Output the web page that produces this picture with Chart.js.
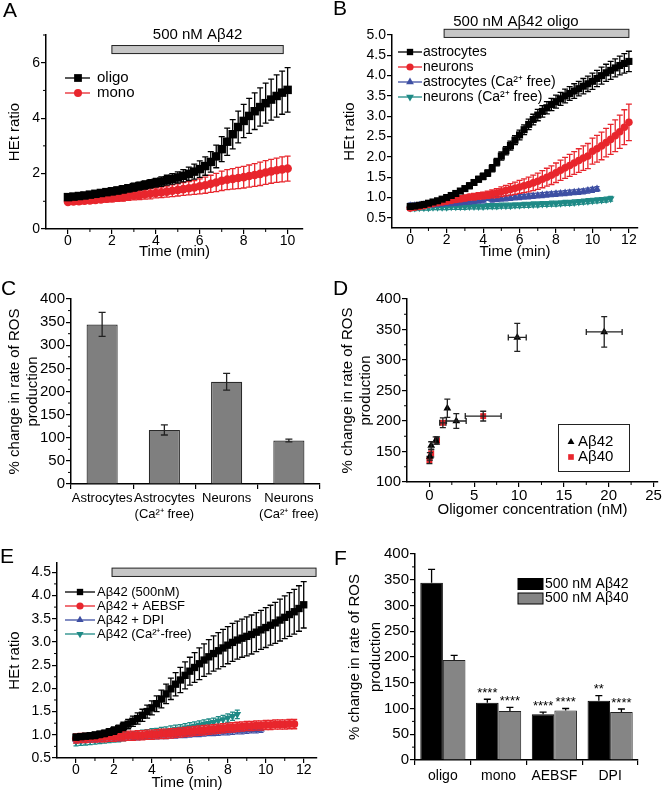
<!DOCTYPE html>
<html>
<head>
<meta charset="utf-8">
<script src="https://cdn.jsdelivr.net/npm/chart.js@4.4.1/dist/chart.umd.min.js"></script>
<style>
  body { margin: 0; background: #fff; }
  #fig { position: relative; width: 666px; height: 793px; overflow: hidden; font-family: "Liberation Sans", Arial, Helvetica, sans-serif; }
  #fig canvas { position: absolute; }
  .lbl { position: absolute; font-size: 21px; line-height: 21px; color: #000; }
</style>
</head>
<body>
<div id="fig">
  <canvas id="cA" width="333" height="260" style="left:0;top:0;width:333px;height:260px"></canvas>
  <canvas id="cB" width="333" height="260" style="left:333px;top:0;width:333px;height:260px"></canvas>
  <canvas id="cC" width="333" height="270" style="left:0;top:260px;width:333px;height:270px"></canvas>
  <canvas id="cD" width="333" height="270" style="left:333px;top:260px;width:333px;height:270px"></canvas>
  <canvas id="cE" width="333" height="263" style="left:0;top:530px;width:333px;height:263px"></canvas>
  <canvas id="cF" width="333" height="263" style="left:333px;top:530px;width:333px;height:263px"></canvas>
  <div class="lbl" style="left:3px;top:-1px">A</div>
  <div class="lbl" style="left:333px;top:-3px">B</div>
  <div class="lbl" style="left:1px;top:277px">C</div>
  <div class="lbl" style="left:333px;top:277px">D</div>
  <div class="lbl" style="left:0px;top:545px">E</div>
  <div class="lbl" style="left:334px;top:547px">F</div>
</div>
<script>
// sampling times (min), shared by the time courses
const times = [0,0.25,0.5,0.75,1,1.25,1.5,1.75,2,2.25,2.5,2.75,3,3.25,3.5,3.75,4,4.25,4.5,4.75,
  5,5.25,5.5,5.75,6,6.25,6.5,6.75,7,7.25,7.5,7.75,8,8.25,8.5,8.75,9,9.25,9.5,9.75,
  10,10.25,10.5,10.75,11,11.25,11.5,11.75,12];

// panel A
const oligoA = [1.15,1.17,1.19,1.21,1.24,1.27,1.30,1.33,1.36,1.39,1.43,1.47,1.51,1.55,1.59,1.63,1.67,1.71,1.76,1.81,
  1.86,1.92,1.99,2.07,2.16,2.27,2.42,2.62,2.88,3.15,3.42,3.68,3.90,4.08,4.25,4.40,4.54,4.67,4.80,4.92,5.02];
const oligoErrA = [0.08,0.08,0.09,0.09,0.10,0.10,0.11,0.11,0.12,0.12,0.13,0.13,0.14,0.14,0.15,0.15,0.16,0.17,0.18,0.19,
  0.20,0.22,0.24,0.27,0.30,0.33,0.37,0.41,0.45,0.49,0.53,0.57,0.60,0.63,0.66,0.69,0.72,0.74,0.76,0.78,0.80];
const monoA = [0.98,0.99,1.00,1.02,1.03,1.05,1.07,1.09,1.11,1.13,1.15,1.18,1.20,1.22,1.25,1.27,1.30,1.32,1.35,1.38,
  1.41,1.44,1.47,1.50,1.54,1.58,1.63,1.68,1.74,1.78,1.81,1.84,1.87,1.91,1.95,1.99,2.04,2.08,2.12,2.15,2.18];
const monoErrA = [0.08,0.09,0.09,0.10,0.10,0.11,0.11,0.12,0.13,0.13,0.14,0.15,0.15,0.16,0.17,0.18,0.18,0.19,0.20,0.21,
  0.22,0.23,0.24,0.25,0.27,0.29,0.31,0.33,0.35,0.36,0.37,0.38,0.39,0.40,0.41,0.42,0.43,0.43,0.44,0.45,0.45];

// panel B
const astroB = [0.78,0.79,0.81,0.83,0.86,0.89,0.92,0.96,1.00,1.05,1.10,1.16,1.22,1.29,1.37,1.45,1.52,1.60,1.72,1.87,
  2.02,2.15,2.28,2.41,2.54,2.67,2.80,2.92,3.03,3.12,3.21,3.29,3.36,3.43,3.50,3.56,3.62,3.68,3.74,3.80,
  3.86,3.93,4.00,4.07,4.13,4.19,4.25,4.30,4.35];
const astroErrB = [0.04,0.04,0.04,0.04,0.04,0.05,0.05,0.05,0.05,0.05,0.06,0.06,0.06,0.07,0.07,0.07,0.08,0.08,0.09,0.09,
  0.10,0.10,0.11,0.11,0.12,0.12,0.13,0.13,0.14,0.14,0.15,0.15,0.16,0.16,0.17,0.17,0.18,0.18,0.19,0.19,
  0.20,0.20,0.21,0.21,0.22,0.22,0.23,0.24,0.25];
const neuroB = [0.74,0.76,0.78,0.80,0.83,0.85,0.87,0.89,0.91,0.93,0.95,0.97,0.99,1.01,1.02,1.04,1.05,1.07,1.09,1.11,
  1.14,1.17,1.20,1.23,1.26,1.29,1.32,1.36,1.40,1.45,1.50,1.55,1.61,1.67,1.73,1.79,1.85,1.91,1.97,2.02,
  2.14,2.20,2.27,2.35,2.43,2.52,2.62,2.73,2.85];
const neuroErrB = [0.05,0.05,0.05,0.05,0.05,0.05,0.05,0.06,0.06,0.06,0.06,0.07,0.07,0.07,0.08,0.08,0.08,0.09,0.10,0.11,
  0.12,0.13,0.14,0.15,0.16,0.17,0.18,0.19,0.20,0.21,0.22,0.23,0.24,0.25,0.26,0.27,0.28,0.29,0.30,0.31,
  0.32,0.33,0.34,0.35,0.37,0.39,0.41,0.43,0.45];
const astroCaB = [0.80,0.80,0.81,0.82,0.82,0.83,0.84,0.85,0.86,0.86,0.87,0.88,0.89,0.90,0.91,0.92,0.93,0.99,0.95,0.96,
  0.97,0.98,0.99,1.00,1.01,1.02,1.03,1.04,1.05,1.06,1.07,1.08,1.09,1.10,1.11,1.12,1.13,1.14,1.15,1.17,1.19,1.21];
const neuroCaB = [0.74,0.74,0.75,0.75,0.75,0.76,0.76,0.76,0.76,0.77,0.77,0.77,0.77,0.78,0.78,0.78,0.78,0.79,0.79,0.79,
  0.80,0.80,0.80,0.81,0.81,0.82,0.82,0.83,0.83,0.84,0.84,0.85,0.85,0.86,0.87,0.87,0.88,0.89,0.90,0.91,
  0.92,0.93,0.94,0.95,0.97];
const astroCaErrB = 0.06;
const neuroCaErrB = 0.06;

// panel C
const cCats = [['Astrocytes'], ['Astrocytes', '(Ca²⁺ free)'], ['Neurons'], ['Neurons', '(Ca²⁺ free)']];
const cVals = [345, 117, 221, 94];
const cErr = [26, 11, 18, 3];

// panel D
const d42x = [0.05, 0.2, 0.7, 2.0, 3.0, 9.8, 19.5];
const d42y = [142, 160, 168, 221, 200, 337, 346];
const d42yErr = [6, 6, 6, 15, 12, 23, 25];
const d42xErr = [0, 0, 0, 0, 1.1, 1.0, 2.0];
const d40x = [0.0, 0.2, 0.85, 1.5, 6.0];
const d40y = [136, 147, 168, 197, 208];
const d40yErr = [6, 6, 6, 8, 8];
const d40xErr = [0, 0, 0.15, 0.35, 2.0];

// panel E
const a42E = [0.95,0.96,0.97,0.98,0.99,1.01,1.03,1.06,1.09,1.13,1.18,1.23,1.29,1.35,1.42,1.50,1.58,1.67,1.77,1.88,
  1.99,2.09,2.18,2.28,2.37,2.45,2.53,2.61,2.68,2.75,2.81,2.87,2.93,2.99,3.04,3.08,3.12,3.16,3.21,3.26,
  3.31,3.36,3.41,3.47,3.53,3.59,3.65,3.72,3.80];
const a42ErrE = [0.06,0.06,0.06,0.06,0.07,0.07,0.07,0.07,0.08,0.08,0.09,0.10,0.11,0.12,0.13,0.14,0.15,0.17,0.19,0.21,
  0.23,0.25,0.27,0.29,0.30,0.32,0.34,0.35,0.37,0.38,0.39,0.40,0.40,0.41,0.41,0.41,0.42,0.42,0.42,0.42,
  0.43,0.43,0.44,0.45,0.46,0.47,0.48,0.49,0.50];
const aebsfE = [0.92,0.93,0.93,0.94,0.94,0.95,0.95,0.96,0.96,0.97,0.97,0.98,0.98,0.99,0.99,1.00,1.00,1.01,1.02,1.02,
  1.03,1.04,1.05,1.06,1.07,1.08,1.09,1.10,1.11,1.12,1.13,1.14,1.15,1.16,1.17,1.18,1.19,1.19,1.20,1.20,
  1.21,1.21,1.22,1.22,1.22,1.23,1.23];
const dpiE = [0.90,0.90,0.91,0.91,0.92,0.92,0.93,0.93,0.94,0.94,0.95,0.95,0.96,0.96,0.97,0.97,0.98,0.98,0.99,0.99,
  1.00,1.00,1.01,1.01,1.02,1.03,1.03,1.04,1.05,1.05,1.06,1.07,1.07,1.08,1.09,1.09,1.10,1.11,1.11,1.12];
const caFreeE = [0.85,0.86,0.87,0.88,0.89,0.90,0.91,0.92,0.93,0.94,0.96,0.97,0.98,0.99,1.01,1.02,1.04,1.05,1.07,1.08,
  1.10,1.12,1.13,1.15,1.17,1.19,1.21,1.23,1.25,1.27,1.30,1.33,1.36,1.40,1.44];
const aebsfErrE = 0.10;
const dpiErrE = 0.07;
const caFreeErrE = 0.09;

// panel F
const fCats = ['oligo', 'mono', 'AEBSF', 'DPI'];
const f42 = [344, 111, 89, 115];
const f42Err = [26, 7, 4, 10];
const f40 = [194, 95, 96, 93];
const f40Err = [9, 7, 4, 6];
const stars42 = ['', '****', '****', '**'];
const stars40 = ['', '****', '****', '****'];

// axis ticks
const ticksTime10 = [0, 2, 4, 6, 8, 10];
const ticksTime12 = [0, 2, 4, 6, 8, 10, 12];
const minorTime = [1, 3, 5, 7, 9, 11];
const ticksA = [0, 2, 4, 6];
const minorA = [1, 3, 5, 7];
const ticksHalf = [0.5, 1.0, 1.5, 2.0, 2.5, 3.0, 3.5, 4.0, 4.5, 5.0];
const minorE = [0.75, 1.25, 1.75, 2.25, 2.75, 3.25, 3.75, 4.25];
const ticksRos = [0, 50, 100, 150, 200, 250, 300, 350, 400];
const minorRos = [25, 75, 125, 175, 225, 275, 325, 375];
const ticksDx = [0, 5, 10, 15, 20, 25];
const minorDx = [2.5, 7.5, 12.5, 17.5, 22.5];
const ticksDy = [100, 150, 200, 250, 300, 350, 400];
const minorDy = [125, 175, 225, 275, 325, 375];

const FONT = '"Liberation Sans", Arial, Helvetica, sans-serif';
const RED = '#e8262d';
const BLUE = '#3e4fa3';
const TEAL = '#1f8a86';
Chart.defaults.font.family = FONT;
Chart.defaults.color = '#000';
Chart.defaults.animation = false;

function pts(vals) {
  return vals.map((v, i) => ({x: times[i], y: v}));
}

function series(vals, color, style, r, rot) {
  return {
    data: pts(vals), borderColor: color, backgroundColor: color, borderWidth: 1.3,
    pointStyle: style, pointRadius: r, pointRotation: rot || 0, pointBorderWidth: 0,
    pointBackgroundColor: color, showLine: true, tension: 0
  };
}

function linAxis(o) {
  return {
    type: 'linear', min: o.min, max: o.max,
    afterBuildTicks: s => { s.ticks = o.ticks.map(v => ({value: v})); },
    afterFit: s => { if (o.w !== undefined) s.width = o.w; if (o.h !== undefined) s.height = o.h; },
    grid: {drawOnChartArea: false, tickLength: 5, color: '#000', lineWidth: 1.2},
    border: {color: '#000', width: 1.5},
    ticks: {font: {size: o.fs || 14}, padding: o.tp !== undefined ? o.tp : 1, autoSkip: false, maxRotation: 0,
      color: '#000', callback: o.fmt || (v => String(v))},
    title: o.title
      ? {display: true, text: o.title, color: '#000', font: {size: o.tfs || 15, lineHeight: o.tlh || 1.2}, padding: o.tpad}
      : {display: false}
  };
}

function catAxis(o) {
  return {
    type: 'category', labels: o.labels,
    afterFit: s => { s.height = o.h; },
    grid: {drawOnChartArea: false, tickLength: 5, color: '#000', lineWidth: 1.2},
    border: {color: '#000', width: 1.5},
    ticks: {font: {size: o.fs || 14, lineHeight: 1.25}, padding: o.tp || 1, autoSkip: false, maxRotation: 0, color: '#000'}
  };
}

function base(pad, scales) {
  return {
    responsive: false, animation: false, events: [],
    layout: {padding: pad},
    plugins: {legend: {display: false}, tooltip: {enabled: false}},
    scales: scales
  };
}

// error bars, minor ticks, legends, stimulus bars and labels
function decor(cfg) {
  return {
    id: 'decor',
    afterDatasetDraw(chart, args) {
      const e = cfg.err && cfg.err[args.index];
      if (!e) return;
      const ctx = chart.ctx, xs = chart.scales.x, ys = chart.scales.y, meta = args.meta;
      ctx.save();
      ctx.strokeStyle = e.color;
      ctx.lineWidth = e.lw || 1.3;
      meta.data.forEach((el, i) => {
        const p = meta.controller.getParsed(i);
        const ey = Array.isArray(e.y) ? e.y[i] : e.y;
        const px = el.x, py = el.y;
        ctx.beginPath();
        if (ey) {
          const top = ys.getPixelForValue(p.y + ey);
          const bot = e.up ? py : ys.getPixelForValue(p.y - ey);
          ctx.moveTo(px, top); ctx.lineTo(px, bot);
          ctx.moveTo(px - e.cap, top); ctx.lineTo(px + e.cap, top);
          if (!e.up) { ctx.moveTo(px - e.cap, bot); ctx.lineTo(px + e.cap, bot); }
        }
        const ex = e.x ? e.x[i] : 0;
        if (ex) {
          const l = xs.getPixelForValue(p.x - ex), r = xs.getPixelForValue(p.x + ex);
          ctx.moveTo(l, py); ctx.lineTo(r, py);
          ctx.moveTo(l, py - e.cap); ctx.lineTo(l, py + e.cap);
          ctx.moveTo(r, py - e.cap); ctx.lineTo(r, py + e.cap);
        }
        ctx.stroke();
      });
      ctx.restore();
    },
    afterDraw(chart) {
      const ctx = chart.ctx, xs = chart.scales.x, ys = chart.scales.y;
      ctx.save();
      // minor ticks
      ctx.strokeStyle = '#000';
      ctx.lineWidth = 1;
      (cfg.minorX || []).forEach(v => {
        const p = xs.getPixelForValue(v);
        ctx.beginPath(); ctx.moveTo(p, xs.top); ctx.lineTo(p, xs.top + 3); ctx.stroke();
      });
      (cfg.minorY || []).forEach(v => {
        const p = ys.getPixelForValue(v);
        ctx.beginPath(); ctx.moveTo(ys.right, p); ctx.lineTo(ys.right - 3, p); ctx.stroke();
      });
      // stimulus bar
      if (cfg.stim) {
        const s = cfg.stim;
        const x1 = xs.getPixelForValue(s.x[0]), x2 = xs.getPixelForValue(s.x[1]);
        const y1 = ys.getPixelForValue(s.y[1]), y2 = ys.getPixelForValue(s.y[0]);
        ctx.fillStyle = '#c6c6c6';
        ctx.fillRect(x1, y1, x2 - x1, y2 - y1);
        ctx.strokeStyle = '#222';
        ctx.lineWidth = 1;
        ctx.strokeRect(x1, y1, x2 - x1, y2 - y1);
        if (s.text) {
          ctx.fillStyle = '#000';
          ctx.font = s.fs + 'px ' + FONT;
          ctx.textAlign = 'center';
          ctx.textBaseline = 'middle';
          ctx.fillText(s.text, xs.getPixelForValue(s.tx), ys.getPixelForValue(s.ty));
        }
      }
      // legend
      if (cfg.legend) {
        const L = cfg.legend;
        if (L.box) {
          ctx.strokeStyle = '#222'; ctx.lineWidth = 1;
          ctx.strokeRect(L.box[0], L.box[1], L.box[2], L.box[3]);
        }
        L.items.forEach((it, k) => {
          const y = L.y + k * L.dy;
          ctx.fillStyle = it.color;
          ctx.strokeStyle = it.color;
          if (L.line) {
            ctx.lineWidth = 1.3;
            ctx.beginPath(); ctx.moveTo(L.line[0], y); ctx.lineTo(L.line[1], y); ctx.stroke();
          }
          if (L.swatch) {
            ctx.fillRect(L.swatch[0], y - L.swatch[2] / 2, L.swatch[1], L.swatch[2]);
            ctx.strokeStyle = '#000';
            ctx.lineWidth = 1;
            ctx.strokeRect(L.swatch[0], y - L.swatch[2] / 2, L.swatch[1], L.swatch[2]);
          } else {
            Chart.helpers.drawPoint(ctx, {pointStyle: it.style, radius: it.r, rotation: it.rot || 0, borderWidth: 0}, L.mx, y);
          }
          ctx.fillStyle = '#000';
          ctx.font = L.fs + 'px ' + FONT;
          ctx.textAlign = 'left';
          ctx.textBaseline = 'middle';
          ctx.fillText(it.text, L.tx, y);
        });
      }
      // significance stars
      (cfg.stars || []).forEach(st => {
        const meta = chart.getDatasetMeta(st.ds);
        const vals = chart.data.datasets[st.ds].data;
        ctx.fillStyle = '#000';
        ctx.font = '13px ' + FONT;
        ctx.textAlign = 'center';
        ctx.textBaseline = 'middle';
        meta.data.forEach((el, i) => {
          if (!st.labels[i]) return;
          ctx.fillText(st.labels[i], el.x, ys.getPixelForValue(vals[i] + st.err[i]) - 6);
        });
      });
      ctx.restore();
    }
  };
}

const fmt1 = v => v.toFixed(1);

// ---- A ----
new Chart(document.getElementById('cA'), {
  type: 'line',
  data: {datasets: [
    series(oligoA, '#000', 'rect', 6),
    series(monoA, RED, 'circle', 4.3)
  ]},
  options: base({left: 0, top: 35, right: 30, bottom: 0}, {
    x: linAxis({min: -1, max: 10.7, ticks: ticksTime10, h: 31, tp: -1, title: 'Time (min)', tpad: {top: 0, bottom: -1}}),
    y: linAxis({min: 0, max: 7, ticks: ticksA, w: 46, title: 'HEt ratio', tpad: {top: 6, bottom: 0}})
  }),
  plugins: [decor({
    err: [{y: oligoErrA, color: '#000', cap: 3}, {y: monoErrA, color: RED, cap: 3}],
    minorX: minorTime.slice(0, 5), minorY: minorA,
    stim: {x: [2, 9.8], y: [6.33, 6.62], text: '500 nM Aβ42', tx: 5.9, ty: 7.0, fs: 15},
    legend: {y: 78, dy: 15, line: [65, 90], mx: 78, tx: 97, fs: 15, items: [
      {text: 'oligo', color: '#000', style: 'rect', r: 5.5},
      {text: 'mono', color: RED, style: 'circle', r: 4}
    ]}
  })]
});

// ---- B ----
new Chart(document.getElementById('cB'), {
  type: 'line',
  data: {datasets: [
    series(astroB, '#000', 'rect', 5),
    series(neuroB, RED, 'circle', 3.8),
    series(astroCaB, BLUE, 'triangle', 4.5),
    series(neuroCaB, TEAL, 'triangle', 4.5, 180)
  ]},
  options: base({left: 0, top: 35, right: 28, bottom: 0}, {
    x: linAxis({min: -1, max: 12.5, ticks: ticksTime12, h: 32, tp: -1, title: 'Time (min)', tpad: {top: 0, bottom: -1}}),
    y: linAxis({min: 0.25, max: 5.0, ticks: ticksHalf, w: 59, fmt: fmt1, title: 'HEt ratio', tpad: {top: 8, bottom: 0}})
  }),
  plugins: [decor({
    err: [{y: astroErrB, color: '#000', cap: 3}, {y: neuroErrB, color: RED, cap: 3},
          {y: astroCaErrB, color: BLUE, cap: 2.5}, {y: neuroCaErrB, color: TEAL, cap: 2.5}],
    minorX: minorTime,
    stim: {x: [1.86, 12.0], y: [4.94, 5.14], text: '500 nM Aβ42 oligo', tx: 5.8, ty: 5.33, fs: 15},
    legend: {y: 52, dy: 15, line: [65, 89], mx: 77, tx: 90, fs: 14, items: [
      {text: 'astrocytes', color: '#000', style: 'rect', r: 4.5},
      {text: 'neurons', color: RED, style: 'circle', r: 3.6},
      {text: 'astrocytes (Ca²⁺ free)', color: BLUE, style: 'triangle', r: 4.5},
      {text: 'neurons (Ca²⁺ free)', color: TEAL, style: 'triangle', r: 4.5, rot: 180}
    ]}
  })]
});

// ---- C ----
new Chart(document.getElementById('cC'), {
  type: 'bar',
  data: {labels: cCats, datasets: [{
    data: cVals, backgroundColor: '#7f7f7f', borderColor: '#2a2a2a', borderWidth: 1.2,
    barPercentage: 0.5, categoryPercentage: 1
  }]},
  options: base({left: 0, top: 39, right: 13, bottom: 0}, {
    x: catAxis({labels: cCats, h: 46, fs: 13, tp: 1}),
    y: linAxis({min: 0, max: 400, ticks: ticksRos, w: 71, fs: 15,
      title: ['% change in rate of ROS', 'production'], tpad: {top: 6, bottom: 0}})
  }),
  plugins: [decor({
    err: [{y: cErr, color: '#222', cap: 3.5, lw: 1.3}],
    minorY: minorRos
  })]
});

// ---- D ----
new Chart(document.getElementById('cD'), {
  type: 'scatter',
  data: {datasets: [
    {data: d42x.map((x, i) => ({x: x, y: d42y[i]})), pointStyle: 'triangle', pointRadius: 4.5,
      backgroundColor: '#000', borderColor: '#000', pointBorderWidth: 0},
    {data: d40x.map((x, i) => ({x: x, y: d40y[i]})), pointStyle: 'rect', pointRadius: 4.2,
      backgroundColor: RED, borderColor: RED, pointBorderWidth: 0}
  ]},
  options: base({left: 0, top: 39, right: 8, bottom: 0}, {
    x: linAxis({min: -2.5, max: 25.5, ticks: ticksDx, h: 48, fs: 15, tp: 0, title: 'Oligomer concentration (nM)', tpad: {top: 0, bottom: 11}}),
    y: linAxis({min: 100, max: 400, ticks: ticksDy, w: 74, fs: 15,
      title: ['% change in rate of ROS', 'production'], tpad: {top: 6, bottom: 0}})
  }),
  plugins: [decor({
    err: [{y: d42yErr, x: d42xErr, color: '#222', cap: 3, lw: 1.3}, {y: d40yErr, x: d40xErr, color: '#222', cap: 3, lw: 1.3}],
    minorX: minorDx, minorY: minorDy,
    legend: {box: [225.5, 164.5, 71, 47], y: 182, dy: 15, mx: 238, tx: 245, fs: 15, items: [
      {text: 'Aβ42', color: '#000', style: 'triangle', r: 4},
      {text: 'Aβ40', color: RED, style: 'rect', r: 4}
    ]}
  })]
});

// ---- E ----
new Chart(document.getElementById('cE'), {
  type: 'line',
  data: {datasets: [
    series(a42E, '#000', 'rect', 5.2),
    series(aebsfE, RED, 'circle', 4),
    series(dpiE, BLUE, 'triangle', 4.5),
    series(caFreeE, TEAL, 'triangle', 4.5, 180)
  ]},
  options: base({left: 0, top: 33, right: 16, bottom: 0}, {
    x: linAxis({min: -1, max: 12.7, ticks: ticksTime12, h: 35, tp: -1, title: 'Time (min)', tpad: {top: 0, bottom: 1}}),
    y: linAxis({min: 0.5, max: 4.7, ticks: ticksHalf.slice(0, 9), w: 57, fmt: fmt1, title: 'HEt ratio', tpad: {top: 6, bottom: 0}})
  }),
  plugins: [decor({
    err: [{y: a42ErrE, color: '#000', cap: 3}, {y: aebsfErrE, color: RED, cap: 3},
          {y: dpiErrE, color: BLUE, cap: 2.5}, {y: caFreeErrE, color: TEAL, cap: 2.5}],
    minorX: minorTime, minorY: minorE,
    stim: {x: [1.9, 12.65], y: [4.41, 4.59]},
    legend: {y: 62, dy: 14, line: [65, 95], mx: 80, tx: 97, fs: 13, items: [
      {text: 'Aβ42 (500nM)', color: '#000', style: 'rect', r: 4.5},
      {text: 'Aβ42 + AEBSF', color: RED, style: 'circle', r: 3.6},
      {text: 'Aβ42 + DPI', color: BLUE, style: 'triangle', r: 4.2},
      {text: 'Aβ42 (Ca²⁺-free)', color: TEAL, style: 'triangle', r: 4.2, rot: 180}
    ]}
  })]
});

// ---- F ----
new Chart(document.getElementById('cF'), {
  type: 'bar',
  data: {labels: fCats, datasets: [
    {data: f42, backgroundColor: '#000', borderColor: '#000', borderWidth: 1, barPercentage: 1, categoryPercentage: 0.81},
    {data: f40, backgroundColor: '#858585', borderColor: '#222', borderWidth: 1, barPercentage: 1, categoryPercentage: 0.81}
  ]},
  options: base({left: 0, top: 24, right: 28, bottom: 0}, {
    x: catAxis({labels: fCats, h: 33, fs: 14, tp: 2}),
    y: linAxis({min: 0, max: 400, ticks: ticksRos, w: 82, fs: 15, tlh: 1.4,
      title: ['% change in rate of ROS', 'production'], tpad: {top: 11.5, bottom: 0}})
  }),
  plugins: [decor({
    err: [{y: f42Err, color: '#000', cap: 3.5, up: true, lw: 1.3}, {y: f40Err, color: '#000', cap: 3.5, up: true, lw: 1.3}],
    minorY: minorRos,
    stars: [{ds: 0, labels: stars42, err: f42Err}, {ds: 1, labels: stars40, err: f40Err}],
    legend: {y: 54, dy: 14.5, swatch: [185, 25, 11], tx: 212, fs: 14, items: [
      {text: '500 nM Aβ42', color: '#000'},
      {text: '500 nM Aβ40', color: '#858585'}
    ]}
  })]
});
</script>
</body>
</html>
